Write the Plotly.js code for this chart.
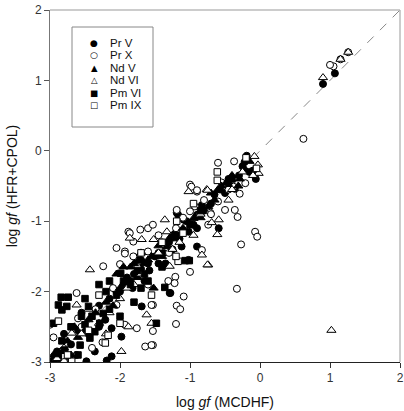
<!DOCTYPE html>
<html>
<head>
<meta charset="utf-8">
<script src="https://cdn.plot.ly/plotly-3.0.1.min.js"></script>
<style>html,body{margin:0;padding:0;background:#fff;}#chart{width:404px;height:411px;}</style>
</head>
<body>
<div id="chart"></div>
<script>
// Series names (legend order)
const seriesNames = ["Pr V", "Pr X", "Nd V", "Nd VI", "Pm VI", "Pm IX"];
const legendGlyphs = ["\u25CF", "\u25CB", "\u25B2", "\u25B3", "\u25A0", "\u25A1"];

// Pr V (filled circles)
const prV_x = [-2.95,-2.88,-2.74,-2.48,-2.19,-2.12,-2.36,-1.98,-2.12,-2.21,-2.6,-2.55,-2.3,-2.15,-2.05,-1.95,-1.85,-1.8,-1.7,-1.75,-1.6,-1.5,-1.45,-1.38,-1.28,-1.3,-1.25,-1.19,-1.17,-1.09,-1.05,-1.02,-1.12,-0.9,-1.02,-0.95,-0.9,-0.83,-0.8,-0.7,-0.59,-0.9,-0.57,-0.5,-0.36,-0.3,-0.22,-0.19,-0.1,-0.06,-0.15,-0.45,0.9,1.07,-1.69,-1.29,-2.0,-1.9,-1.82,-1.7,-1.65,-1.58,-1.45,-1.35,-1.25,-1.15,-2.3,-2.45,-2.7,-2.8,-2.9,-0.25,-0.65];
const prV_y = [-2.97,-2.95,-2.92,-2.99,-2.98,-2.92,-2.85,-2.64,-2.52,-2.4,-2.55,-2.3,-2.2,-2.1,-2.0,-1.9,-1.85,-1.75,-1.68,-1.55,-1.6,-1.5,-1.6,-1.45,-2.02,-1.3,-1.2,-0.88,-0.91,-0.98,-1.0,-1.15,-1.36,-1.36,-1.55,-1.05,-0.91,-0.77,-0.85,-0.75,-1.1,-1.1,-0.55,-0.6,-0.54,-0.35,-0.16,-0.07,-0.28,-0.4,-0.3,-0.4,0.95,1.1,-2.21,-2.02,-2.0,-1.8,-1.95,-1.55,-1.85,-1.7,-1.45,-1.6,-1.4,-1.25,-2.5,-2.6,-2.75,-2.6,-2.85,-0.22,-0.62];

// Pr X (open circles)
const prX_x = [-2.62,-2.6,-2.24,-2.05,-1.93,-1.81,-1.6,-1.88,-1.81,-1.71,-1.6,-1.53,-1.0,-0.9,-0.98,-1.19,-0.93,-0.86,-1.0,-0.6,-0.37,-0.38,-0.21,-0.29,-0.5,-0.36,-0.32,-0.71,-0.74,-0.6,-0.9,-2.0,-1.93,-0.33,-0.27,-0.07,-0.04,-0.83,-1.0,-1.31,-1.21,-1.22,-1.09,-1.19,-1.14,-1.2,-1.53,-1.53,-1.53,-1.64,-1.55,-1.76,-1.93,-2.05,-1.55,-3.0,-2.95,-2.7,-2.62,-2.4,-2.25,1.05,1.15,1.26,1.0,0.62,-1.4,-1.3,-1.2,-0.8,-0.7,-0.55,-0.45,-1.75,-1.6,-2.1,-2.35,-2.55,-2.8,-1.86,-1.45,-1.1];
const prX_y = [-2.02,-2.38,-1.64,-1.38,-1.43,-1.5,-1.43,-1.15,-1.29,-1.12,-1.1,-1.05,-0.48,-0.58,-0.51,-0.84,-0.79,-0.91,-0.86,-0.17,-0.15,-0.51,-0.46,-0.61,-0.84,-0.84,-0.94,-0.88,-1.05,-0.72,-0.56,-1.61,-1.46,-1.96,-1.33,-1.15,-1.22,-1.41,-1.72,-1.85,-1.79,-1.88,-2.07,-2.2,-2.25,-2.46,-2.19,-2.56,-2.76,-2.78,-2.76,-2.52,-2.47,-2.19,-2.19,-2.47,-2.65,-2.98,-2.9,-2.8,-2.72,1.2,1.3,1.4,1.22,0.17,-1.3,-1.45,-1.1,-0.7,-0.9,-0.45,-0.55,-1.65,-1.9,-1.95,-2.25,-2.5,-3.0,-1.17,-1.2,-0.95];

// Nd V (filled triangles)
const ndV_x = [-2.85,-2.75,-2.65,-2.5,-2.45,-2.35,-2.2,-2.1,-2.0,-1.9,-1.85,-1.75,-1.65,-1.55,-1.52,-1.45,-1.4,-1.33,-1.24,-1.2,-1.1,-0.95,-0.85,-0.74,-0.65,-0.48,-0.55,-0.29,-0.31,-0.2,-0.15,-2.7,-2.95,-2.6,-1.7,-1.95,-2.05,-1.8,-1.6,-1.3,-0.7,-0.4,-0.6];
const ndV_y = [-2.85,-2.7,-2.5,-2.55,-2.4,-2.3,-2.15,-2.2,-1.95,-1.85,-1.65,-1.8,-1.6,-1.5,-1.95,-1.35,-1.5,-1.36,-1.19,-1.25,-1.1,-0.96,-0.95,-0.79,-0.7,-0.45,-0.5,-0.4,-0.5,-0.28,-0.15,-2.9,-2.9,-2.65,-1.45,-1.65,-1.75,-1.6,-1.55,-1.25,-0.6,-0.35,-0.55];

// Nd VI (open triangles)
const ndVI_x = [-2.43,-2.62,-2.69,-1.98,-1.88,-1.62,-1.55,-0.83,-0.74,-1.29,-1.02,-0.76,-1.86,-1.69,-1.52,-1.36,-0.08,-0.03,-0.02,-0.75,-0.59,-0.61,-0.69,1.02,0.9,1.15,1.26,-2.9,-2.8,-2.55,-2.3,-2.15,-2.0,-1.8,-1.7,-1.45,-1.25,-1.15,-0.95,-0.85,-0.45,-0.4,-0.25,-0.1,-1.9,-2.45,-2.2,-1.33,-0.75];
const ndVI_y = [-1.69,-2.19,-2.59,-2.85,-2.5,-2.33,-2.45,-1.48,-1.62,-1.64,-0.58,-0.55,-1.24,-1.26,-1.26,-0.98,-0.08,-0.2,-0.32,-0.56,-0.98,-1.19,-1.02,-2.55,1.04,1.3,1.4,-2.95,-2.8,-2.6,-2.45,-2.3,-2.1,-1.9,-1.75,-1.45,-1.4,-1.3,-1.2,-0.9,-0.7,-0.55,-0.3,-0.35,-1.95,-2.25,-2.6,-1.15,-1.62];

// Pm VI (filled squares)
const pmVI_x = [-2.84,-2.74,-2.88,-2.76,-2.83,-2.95,-2.45,-2.24,-2.4,-2.5,-2.29,-2.36,-2.43,-2.83,-2.57,-2.88,-2.79,-2.6,-1.99,-1.95,-1.85,-2.05,-2.2,-2.15,-1.75,-1.65,-1.7,-1.6,-1.4,-1.36,-1.48,-1.07,-1.01,-1.8,-2.0,-2.5,-2.3,-2.15,-0.45,-0.4,-1.0,-0.85,-1.2,-2.7,-2.55];
const pmVI_y = [-2.08,-2.08,-2.19,-2.21,-2.26,-2.45,-2.21,-2.31,-2.35,-2.47,-2.45,-2.57,-2.66,-2.7,-2.76,-2.88,-2.83,-2.9,-1.74,-1.85,-1.9,-2.05,-2.0,-2.25,-1.7,-1.75,-1.95,-1.85,-1.65,-1.94,-2.45,-1.56,-1.56,-2.15,-2.35,-2.1,-1.9,-1.85,-0.46,-0.4,-1.05,-0.85,-1.2,-2.5,-2.35];

// Pm IX (open squares)
const pmIX_x = [-2.88,-2.21,-2.17,-2.69,-2.75,-1.17,-1.19,-1.1,-0.61,-0.61,-2.0,-1.55,-2.3,-1.7,-0.2,-0.05,-1.2,-2.45,-1.4,-0.95];
const pmIX_y = [-2.42,-2.73,-2.62,-2.99,-2.9,-1.57,-1.0,-1.17,-0.3,-0.42,-2.45,-2.05,-2.05,-1.45,-0.1,-0.25,-1.5,-2.55,-1.3,-0.75];

// Axis range / ticks and y = x reference line
const axisRange = [-3, 2];
const tickVals = [-3, -2, -1, 0, 1, 2];
const tickText = ["-3", "-2", "-1", "0", "1", "2"];

const xs = [prV_x, prX_x, ndV_x, ndVI_x, pmVI_x, pmIX_x];
const ys = [prV_y, prX_y, ndV_y, ndVI_y, pmVI_y, pmIX_y];
const symbols = ["circle", "circle", "triangle-up", "triangle-up", "square", "square"];
const fills = ["#000", "#fff", "#000", "#fff", "#000", "#fff"];
const sizes = [7, 7, 8, 8, 6.5, 6.5];

const traces = seriesNames.map((n, i) => ({
  type: "scatter", mode: "markers", name: n,
  x: xs[i], y: ys[i],
  marker: {symbol: symbols[i], color: fills[i], size: sizes[i], line: {color: "#000", width: 1}}
}));

const font = "'Liberation Sans', Arial, sans-serif";
const plotTop = 10, plotH = 352;
const toPaperY = py => (plotTop + plotH - py) / plotH;
const toPaperX = px => (px - 50) / 350;

// custom legend (box + glyph + label)
const glyphSizes = [9, 9, 8.5, 8.5, 8.5, 8.5];
const annotations = [];
seriesNames.forEach((n, i) => {
  const py = 42.7 + i * 12.5;
  annotations.push({xref: "paper", yref: "paper", x: toPaperX(94), y: toPaperY(py), xanchor: "center", yanchor: "middle",
    text: legendGlyphs[i], showarrow: false, font: {family: "'DejaVu Sans', sans-serif", size: glyphSizes[i], color: "#000"}});
  annotations.push({xref: "paper", yref: "paper", x: toPaperX(108), y: toPaperY(py), xanchor: "left", yanchor: "middle",
    text: n, showarrow: false, font: {family: font, size: 11.5, color: "#111"}});
});

const layout = {
  width: 404, height: 411,
  margin: {l: 50, r: 4, t: plotTop, b: 411 - plotTop - plotH},
  paper_bgcolor: "#fff", plot_bgcolor: "#fff",
  showlegend: false,
  xaxis: {
    range: axisRange, tickvals: tickVals, ticktext: tickText,
    ticks: "outside", ticklen: 5, tickcolor: "#333",
    showline: true, linecolor: "#222", linewidth: 1,
    showgrid: false, zeroline: false,
    tickfont: {family: font, size: 12, color: "#333"},
    title: {text: "log <i>gf</i> (MCDHF)", font: {family: font, size: 14, color: "#111"}, standoff: 12}
  },
  yaxis: {
    range: axisRange, tickvals: tickVals, ticktext: tickText,
    ticks: "outside", ticklen: 5, tickcolor: "#555",
    showline: true, linecolor: "#777", linewidth: 1,
    showgrid: false, zeroline: false,
    tickfont: {family: font, size: 12, color: "#333"},
    title: {text: "log <i>gf</i> (HFR+CPOL)", font: {family: font, size: 14, color: "#111"}, standoff: 10}
  },
  annotations: annotations,
  shapes: [
    {type: "line", xref: "x", yref: "y", x0: axisRange[0], y0: axisRange[0], x1: axisRange[1], y1: axisRange[1],
     line: {color: "#888", width: 1, dash: "dash"}, layer: "below"},
    {type: "line", xref: "paper", yref: "paper", x0: 0, y0: 1, x1: 1, y1: 1, line: {color: "#999", width: 1}},
    {type: "line", xref: "paper", yref: "paper", x0: 1, y0: 0, x1: 1, y1: 1, line: {color: "#999", width: 1}},
    {type: "rect", xref: "paper", yref: "paper", x0: toPaperX(72), x1: toPaperX(153), y0: toPaperY(127), y1: toPaperY(27),
     line: {color: "#888", width: 1}, fillcolor: "#fff", layer: "above"}
  ]
};

Plotly.newPlot("chart", traces, layout, {displayModeBar: false, staticPlot: true});
</script>
</body>
</html>
